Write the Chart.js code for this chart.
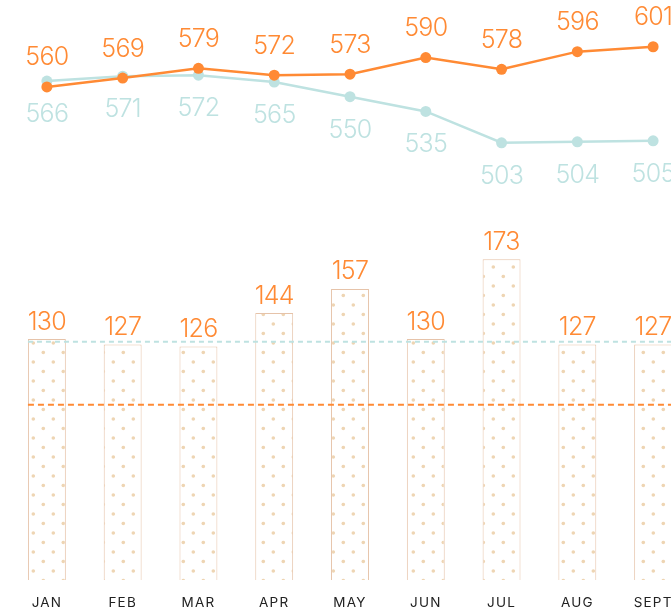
<!DOCTYPE html>
<html lang="en">
<head>
<meta charset="UTF-8">
<title>Monthly figures</title>
<script src="https://cdn.jsdelivr.net/npm/chart.js"></script>
<style>
  html, body { margin: 0; padding: 0; background: #fff; overflow: hidden; }
  #wrap { position: relative; width: 671px; height: 611px; overflow: hidden; }
  #lineChart { position: absolute; left: 0; top: 0; }
  #barChart { position: absolute; left: 0; top: 200px; }
</style>
</head>
<body>
<div id="wrap">
  <canvas id="lineChart" width="700" height="200"></canvas>
  <canvas id="barChart" width="700" height="411"></canvas>
</div>
<script>
const months = ['JAN', 'FEB', 'MAR', 'APR', 'MAY', 'JUN', 'JUL', 'AUG', 'SEPT'];
const orangeLine = [560, 569, 579, 572, 573, 590, 578, 596, 601];
const tealLine = [566, 571, 572, 565, 550, 535, 503, 504, 505];
const barValues = [130, 127, 126, 144, 157, 130, 173, 127, 127];
const tealLevel = 128.5;
const orangeLevel = 94.5;

const ORANGE = '#FF8A34';
const TEAL = '#BEE2E1';
const NUM_FONT = '300 25px Inter';

// numbers above / below each mark
const valueLabels = {
    id: 'valueLabels',
    afterDatasetsDraw(chart) {
        const ctx = chart.ctx;
        chart.data.datasets.forEach((ds, i) => {
            if (ds.labelOffset === undefined) return;
            const meta = chart.getDatasetMeta(i);
            ctx.save();
            ctx.letterSpacing = '-0.7px';
            ctx.font = NUM_FONT;
            ctx.fillStyle = ds.labelColor;
            ctx.textAlign = 'center';
            ctx.textBaseline = 'middle';
            meta.data.forEach((el, j) => {
                ctx.fillText(String(ds.data[j]), el.x, el.y + ds.labelOffset);
            });
            ctx.restore();
        });
    }
};

// dashed reference levels across the bars
const levelLines = {
    id: 'levelLines',
    afterDatasetsDraw(chart) {
        const { ctx, chartArea, scales } = chart;
        const first = chart.getDatasetMeta(0).data[0];
        const x0 = first.x - first.width / 2;
        [[tealLevel, TEAL, [5, 4]], [orangeLevel, ORANGE, [6, 4]]].forEach(([v, color, dash]) => {
            const y = scales.y.getPixelForValue(v);
            ctx.save();
            ctx.strokeStyle = color;
            ctx.lineWidth = 2;
            ctx.setLineDash(dash);
            ctx.beginPath();
            ctx.moveTo(x0, y);
            ctx.lineTo(chartArea.right + 20, y);
            ctx.stroke();
            ctx.restore();
        });
    }
};

// a bit of tracking on the month names
const tracking = {
    id: 'tracking',
    beforeDraw(chart) { chart.ctx.letterSpacing = '1.2px'; }
};

function dotPattern() {
    const c = document.createElement('canvas');
    c.width = 20;
    c.height = 19;
    const g = c.getContext('2d');
    g.fillStyle = '#fff';
    g.fillRect(0, 0, 20, 19);
    g.fillStyle = '#EED5B3';
    [[13.3, 10], [3.3, 0.5], [3.3, 19.5]].forEach(([x, y]) => {
        g.beginPath();
        g.arc(x, y, 1.8, 0, Math.PI * 2);
        g.fill();
    });
    return g.createPattern(c, 'repeat');
}

new Chart(document.getElementById('lineChart'), {
    type: 'line',
    data: {
        labels: months,
        datasets: [
            {
                data: orangeLine,
                borderColor: ORANGE,
                backgroundColor: ORANGE,
                borderWidth: 2.5,
                pointRadius: 5.5,
                pointBorderWidth: 0,
                pointBackgroundColor: ORANGE,
                tension: 0,
                order: 0,
                labelOffset: -29,
                labelColor: ORANGE
            },
            {
                data: tealLine,
                borderColor: TEAL,
                backgroundColor: TEAL,
                borderWidth: 2.5,
                pointRadius: 5.5,
                pointBorderWidth: 0,
                pointBackgroundColor: TEAL,
                tension: 0,
                order: 1,
                labelOffset: 33.5,
                labelColor: TEAL
            }
        ]
    },
    options: {
        responsive: false,
        animation: false,
        layout: { autoPadding: false, padding: { left: 9, right: 9, top: 0, bottom: 0 } },
        plugins: { legend: { display: false }, tooltip: { enabled: false } },
        scales: {
            x: { display: false, offset: true },
            y: { display: false, min: 444.6, max: 648.7 }
        }
    },
    plugins: [valueLabels]
});

new Chart(document.getElementById('barChart'), {
    type: 'bar',
    data: {
        labels: months,
        datasets: [{
            data: barValues,
            backgroundColor: dotPattern(),
            borderColor: '#E6C3A9',
            borderWidth: 1,
            barPercentage: 0.5,
            categoryPercentage: 1,
            labelOffset: -17,
            labelColor: ORANGE
        }]
    },
    options: {
        responsive: false,
        animation: false,
        layout: { autoPadding: false, padding: { left: 9, right: 9, top: 0, bottom: 0 } },
        plugins: { legend: { display: false }, tooltip: { enabled: false } },
        scales: {
            x: {
                grid: { display: false, drawTicks: false },
                border: { display: false },
                ticks: {
                    color: '#222',
                    font: { family: 'Inter', size: 13.5 },
                    padding: 15,
                    maxRotation: 0,
                    autoSkip: false
                },
                afterFit: s => { s.height = 31; }
            },
            y: { display: false, min: 0, max: 205 }
        }
    },
    plugins: [tracking, levelLines, valueLabels]
});
</script>
</body>
</html>
